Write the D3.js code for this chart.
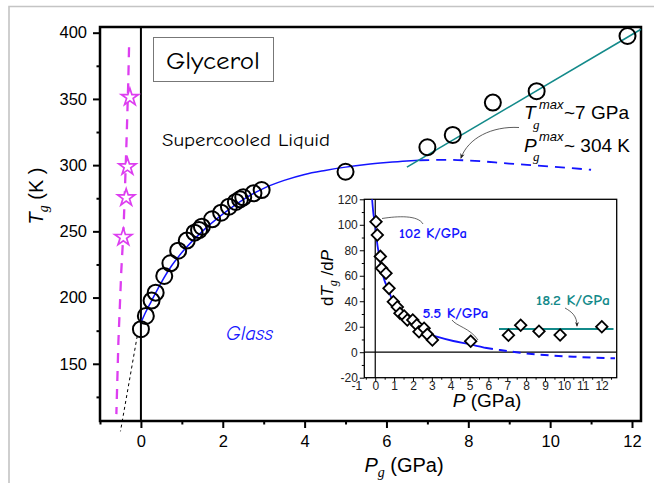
<!DOCTYPE html>
<html>
<head>
<meta charset="utf-8">
<script src="https://cdn.jsdelivr.net/npm/d3@7"></script>
<style>
  body { margin: 0; background: #fff; }
  svg { display: block; }
  text { font-family: "Liberation Sans", Arial, sans-serif; }
  .comic { font-family: "Comic Sans MS", "Comic Neue", "DejaVu Sans", sans-serif; }
</style>
</head>
<body>
<div id="container"></div>
<script>

/** CONSTANTS AND GLOBALS */
const width = 654,
  height = 483;

// main panel: Tg vs Pg
const lowP  = [0.00, 0.12, 0.26, 0.36, 0.57, 0.72, 0.91, 1.12, 1.31, 1.42, 1.49, 1.74, 1.96, 2.15, 2.32, 2.42, 2.50, 2.75, 2.95];
const lowTg = [176.1, 186.1, 197.7, 203.7, 216.3, 225.9, 235.4, 243.0, 249.0, 251.0, 253.5, 259.1, 264.1, 268.6, 272.2, 274.2, 275.7, 278.7, 281.2];
const highP  = [5.00, 7.00, 7.62, 8.60, 9.67, 11.89];
const highTg = [295.0, 313.5, 322.8, 347.2, 355.8, 397.5];

// magenta stars + dashed guide
const starP  = [-0.27, -0.33, -0.36, -0.43];
const starTg = [351.2, 298.8, 275.4, 245.5];
const guideP  = [-0.29, -0.31, -0.35, -0.40, -0.43, -0.48, -0.55, -0.60];
const guideTg = [389, 362, 320, 273, 248, 220, 167, 112];

// blue fit curve, solid part and dashed continuation
const fitP  = [0, 0.1, 0.25, 0.5, 0.75, 1, 1.5, 2, 2.5, 3, 3.5, 4, 4.5, 5, 5.5, 6, 6.5, 6.8];
const fitTg = [181, 188, 197, 211.5, 224, 234, 250, 263, 274, 282.5, 288.5, 293, 296, 298.5, 300.5, 302, 303.2, 303.7];
const fitDashP  = [6.8, 7.5, 8, 9, 10, 11];
const fitDashTg = [303.7, 304, 303.5, 301.2, 299, 296.5];

// black dotted extrapolation
const dotP  = [-0.09, -0.50];
const dotTg = [171, 99];

// teal line, 18.2 K/GPa
const tealP  = [6.5, 12.22];
const tealTg = [298.5, 402.6];

const xMajor = [0, 2, 4, 6, 8, 10, 12];
const xMinor = [-1, 1, 3, 5, 7, 9, 11];
const yMajor = [150, 200, 250, 300, 350, 400];
const yMinor = [125, 175, 225, 275, 325, 375];

// inset: dTg/dP vs P
const slopeP = [0.04, 0.11, 0.27, 0.34, 0.57, 0.73, 0.96, 1.17, 1.31, 1.53, 1.70, 1.99, 2.20, 2.32, 2.59, 2.76, 3.03, 5.06, 7.06, 7.71, 8.68, 9.80, 12.01];
const slopeV = [102.4, 92.0, 75.2, 65.8, 61.9, 50.1, 39.6, 35.5, 30.5, 28.4, 25.3, 25.3, 21.3, 16.1, 18.8, 14.0, 9.6, 8.6, 13.3, 21.1, 16.4, 13.5, 20.0];
const dfitP = [-0.17, -0.10, -0.01, 0.08, 0.22, 0.43, 0.70, 1.05, 1.49, 2.02, 2.73, 3.26, 4.14, 5.03, 5.82];
const dfitV = [120.8, 109, 101, 88, 75, 59.2, 48.8, 35.7, 27.9, 21.3, 14.8, 12.2, 8.8, 6.2, 3.5];
const dfitDashP = [5.82, 6.62, 7.68, 8.56, 9.44, 10.5, 11.56, 12.71];
const dfitDashV = [3.5, 1.7, -0.4, -1.7, -2.7, -3.5, -4.3, -4.8];
const tealSlopeP = [6.56, 12.63];
const tealSlopeV = [18.2, 18.2];

const insXMajor = d3.range(-1, 13);
const insXMinor = d3.range(-0.5, 12.6, 1);
const insYMajor = [-20, 0, 20, 40, 60, 80, 100, 120];
const insYMinor = [-10, 10, 30, 50, 70, 90, 110];

const blue = "#1414ff", teal = "#138a8a", magenta = "#dd3ef0";

let svg;

/** INITIALIZING FUNCTION */
function init() {
  svg = d3.select("#container")
    .append("svg")
    .attr("width", width)
    .attr("height", height);

  const defs = svg.append("defs");
  defs.append("marker")
    .attr("id", "arrow")
    .attr("viewBox", "0 0 10 10")
    .attr("refX", 8).attr("refY", 5)
    .attr("markerWidth", 7).attr("markerHeight", 7)
    .attr("orient", "auto")
    .append("path")
    .attr("d", "M0,1 L10,5 L0,9 L3,5 z")
    .attr("fill", "#222");

  // grey outer border
  svg.append("path")
    .attr("d", "M9,483 L9,6.5 L654,6.5")
    .attr("fill", "none")
    .attr("stroke", "#c4c4c4")
    .attr("stroke-width", 1.6);

  draw();
}

function pairs(a, b) { return a.map((v, i) => [v, b[i]]); }

/** DRAW FUNCTION */
function draw() {
  const x = d3.scaleLinear().domain([-1, 12.22]).range([100, 641]);
  const y = d3.scaleLinear().domain([106.8, 404.3]).range([421, 27]);
  const line = d3.line().x(d => x(d[0])).y(d => y(d[1]));
  const smooth = d3.line().x(d => x(d[0])).y(d => y(d[1])).curve(d3.curveMonotoneX);

  // axes
  svg.append("g").attr("transform", "translate(0,421)")
    .call(d3.axisBottom(x).tickValues(xMajor).tickSize(7).tickSizeOuter(0).tickPadding(7));
  svg.append("g").attr("transform", "translate(0,421)")
    .call(d3.axisBottom(x).tickValues(xMinor).tickSize(3.5).tickSizeOuter(0).tickFormat(""));
  svg.append("g").attr("transform", "translate(100,0)")
    .call(d3.axisLeft(y).tickValues(yMajor).tickSize(7).tickSizeOuter(0).tickPadding(6));
  svg.append("g").attr("transform", "translate(100,0)")
    .call(d3.axisLeft(y).tickValues(yMinor).tickSize(3.5).tickSizeOuter(0).tickFormat(""));
  svg.selectAll(".domain").remove();
  svg.selectAll(".tick line").attr("stroke", "#000").attr("stroke-width", 2);
  svg.selectAll(".tick text").attr("font-size", 16.5).attr("fill", "#000")
    .style("font-family", "'Liberation Sans', Arial, sans-serif");

  // frame + zero line
  svg.append("rect")
    .attr("x", 100).attr("y", 27).attr("width", 541).attr("height", 394)
    .attr("fill", "none").attr("stroke", "#000").attr("stroke-width", 2.5);
  svg.append("line")
    .attr("x1", x(0)).attr("x2", x(0)).attr("y1", 27).attr("y2", 421)
    .attr("stroke", "#000").attr("stroke-width", 2);

  // Glycerol box
  svg.append("rect")
    .attr("x", 153.5).attr("y", 37.5).attr("width", 120).attr("height", 44)
    .attr("fill", "#fff").attr("stroke", "#777").attr("stroke-width", 1);
  svg.append("text").attr("class", "comic")
    .attr("x", 166).attr("y", 69).attr("font-size", 24)
    .attr("textLength", 94).attr("lengthAdjust", "spacingAndGlyphs")
    .text("Glycerol");

  svg.append("text").attr("class", "comic")
    .attr("x", 162).attr("y", 145.5).attr("font-size", 18.5)
    .attr("textLength", 168).attr("lengthAdjust", "spacingAndGlyphs")
    .text("Supercooled Liquid");

  svg.append("text").attr("class", "comic")
    .attr("x", 226).attr("y", 340).attr("font-size", 19.5)
    .attr("font-style", "italic").attr("fill", blue)
    .attr("textLength", 47).attr("lengthAdjust", "spacingAndGlyphs")
    .text("Glass");

  // magenta dashed guide + stars
  svg.append("path").datum(pairs(guideP, guideTg))
    .attr("d", line)
    .attr("fill", "none").attr("stroke", magenta)
    .attr("stroke-width", 2.3).attr("stroke-dasharray", "10,8");
  svg.selectAll(".star")
    .data(pairs(starP, starTg))
    .join("path")
    .attr("class", "star")
    .attr("d", d3.symbol(d3.symbolStar, 92))
    .attr("transform", d => `translate(${x(d[0])},${y(d[1])})`)
    .attr("fill", "#fff").attr("stroke", magenta).attr("stroke-width", 1.7);

  // dotted extrapolation
  svg.append("path").datum(pairs(dotP, dotTg))
    .attr("d", line)
    .attr("fill", "none").attr("stroke", "#000")
    .attr("stroke-width", 1).attr("stroke-dasharray", "3,3");

  // blue fit
  svg.append("path").datum(pairs(fitP, fitTg))
    .attr("d", smooth)
    .attr("fill", "none").attr("stroke", blue).attr("stroke-width", 1.5);
  svg.append("path").datum(pairs(fitDashP, fitDashTg))
    .attr("d", smooth)
    .attr("fill", "none").attr("stroke", blue)
    .attr("stroke-width", 1.8).attr("stroke-dasharray", "10,7");

  // teal line
  svg.append("path").datum(pairs(tealP, tealTg))
    .attr("d", line)
    .attr("fill", "none").attr("stroke", teal).attr("stroke-width", 1.6);

  // circles
  svg.selectAll(".pt")
    .data(pairs(lowP, lowTg).concat(pairs(highP, highTg)))
    .join("circle")
    .attr("class", "pt")
    .attr("cx", d => x(d[0]))
    .attr("cy", d => y(d[1]))
    .attr("r", 8)
    .attr("fill", "none").attr("stroke", "#000").attr("stroke-width", 2);

  // annotation Tg max / Pg max
  const ann = svg.append("g");
  ann.append("text").attr("x", 524).attr("y", 119).attr("font-size", 19).attr("font-style", "italic").text("T");
  ann.append("text").attr("x", 533).attr("y", 129).attr("font-size", 13)
    .attr("font-style", "italic").style("font-family", "'Liberation Serif', serif").text("g");
  ann.append("text").attr("x", 539).attr("y", 109).attr("font-size", 13).attr("font-style", "italic").text("max");
  ann.append("text").attr("x", 564).attr("y", 119).attr("font-size", 19).text("~7 GPa");
  ann.append("text").attr("x", 524).attr("y", 151.5).attr("font-size", 19).attr("font-style", "italic").text("P");
  ann.append("text").attr("x", 533).attr("y", 161).attr("font-size", 13)
    .attr("font-style", "italic").style("font-family", "'Liberation Serif', serif").text("g");
  ann.append("text").attr("x", 539).attr("y", 141).attr("font-size", 13).attr("font-style", "italic").text("max");
  ann.append("text").attr("x", 564).attr("y", 151.5).attr("font-size", 19).text("~ 304 K");
  ann.append("path")
    .attr("d", "M519,127.5 C492,126 468,138 461,158")
    .attr("fill", "none").attr("stroke", "#333").attr("stroke-width", 0.8)
    .attr("marker-end", "url(#arrow)");

  // axis titles
  const yt = svg.append("text")
    .attr("transform", "translate(43,196) rotate(-90)")
    .attr("text-anchor", "middle").attr("font-size", 20);
  yt.append("tspan").attr("font-style", "italic").text("T");
  yt.append("tspan").attr("font-style", "italic").attr("font-size", 14).attr("dy", 5)
    .style("font-family", "'Liberation Serif', serif").text("g");
  yt.append("tspan").attr("dy", -5).text(" (K )");

  const xt = svg.append("text")
    .attr("x", 404).attr("y", 472)
    .attr("text-anchor", "middle").attr("font-size", 20);
  xt.append("tspan").attr("font-style", "italic").text("P");
  xt.append("tspan").attr("font-style", "italic").attr("font-size", 14).attr("dy", 5)
    .style("font-family", "'Liberation Serif', serif").text("g");
  xt.append("tspan").attr("dy", -5).text(" (GPa)");

  drawInset();
}

function drawInset() {
  const L = 364.3, R = 616.7, T = 199.3, B = 377.7;
  const x = d3.scaleLinear().domain([-0.58, 12.8]).range([L, R]);
  const y = d3.scaleLinear().domain([-20, 120]).range([B, T]);
  const line = d3.line().x(d => x(d[0])).y(d => y(d[1]));
  const smooth = d3.line().x(d => x(d[0])).y(d => y(d[1])).curve(d3.curveMonotoneX);
  const fmt = d => String(d);

  const g = svg.append("g");
  g.append("rect")
    .attr("x", L).attr("y", T).attr("width", R - L).attr("height", B - T)
    .attr("fill", "#fff");

  g.append("clipPath").attr("id", "insclip")
    .append("rect").attr("x", L).attr("y", T).attr("width", R - L).attr("height", B - T);

  // zero lines
  g.append("line").attr("x1", L).attr("x2", R).attr("y1", y(0)).attr("y2", y(0))
    .attr("stroke", "#000").attr("stroke-width", 1.2);
  g.append("line").attr("x1", x(0)).attr("x2", x(0)).attr("y1", T).attr("y2", B)
    .attr("stroke", "#000").attr("stroke-width", 1.2);

  const ax = g.append("g").attr("transform", `translate(0,${B})`)
    .call(d3.axisBottom(x).tickValues(insXMajor).tickFormat(fmt).tickSize(3.5).tickSizeOuter(0).tickPadding(0));
  g.append("g").attr("transform", `translate(0,${B})`)
    .call(d3.axisBottom(x).tickValues(insXMinor).tickSize(2).tickSizeOuter(0).tickFormat(""));
  g.append("g").attr("transform", `translate(${L},0)`)
    .call(d3.axisLeft(y).tickValues(insYMajor).tickFormat(fmt).tickSize(4.5).tickSizeOuter(0).tickPadding(2));
  g.append("g").attr("transform", `translate(${L},0)`)
    .call(d3.axisLeft(y).tickValues(insYMinor).tickSize(2.5).tickSizeOuter(0).tickFormat(""));
  g.selectAll(".domain").remove();
  g.selectAll(".tick line").attr("stroke", "#000").attr("stroke-width", 1);
  g.selectAll(".tick text").attr("font-size", 12).attr("fill", "#222")
    .style("font-family", "'Liberation Sans', Arial, sans-serif");
  ax.selectAll(".tick").filter(d => d < -0.58).select("line").remove();

  g.append("rect")
    .attr("x", L).attr("y", T).attr("width", R - L).attr("height", B - T)
    .attr("fill", "none").attr("stroke", "#000").attr("stroke-width", 1.3);

  const cl = g.append("g").attr("clip-path", "url(#insclip)");
  cl.append("path").datum(pairs(dfitP, dfitV))
    .attr("d", smooth)
    .attr("fill", "none").attr("stroke", blue).attr("stroke-width", 1.8);
  cl.append("path").datum(pairs(dfitDashP, dfitDashV))
    .attr("d", smooth)
    .attr("fill", "none").attr("stroke", blue)
    .attr("stroke-width", 2).attr("stroke-dasharray", "8,6");
  cl.append("path").datum(pairs(tealSlopeP, tealSlopeV))
    .attr("d", line)
    .attr("fill", "none").attr("stroke", teal).attr("stroke-width", 2);

  // leaders
  g.append("path").attr("d", "M382,218.5 C398,216 418,215 423,224")
    .attr("fill", "none").attr("stroke", "#222").attr("stroke-width", 0.7);
  g.append("path").attr("d", "M452,320 C456,326 470,328 478,340")
    .attr("fill", "none").attr("stroke", "#222").attr("stroke-width", 0.7);
  g.append("path").attr("d", "M565,308 C572,312 577,316 577,326")
    .attr("fill", "none").attr("stroke", "#222").attr("stroke-width", 0.7)
    .attr("marker-end", "url(#arrow)");

  // diamonds
  g.selectAll(".dm")
    .data(pairs(slopeP, slopeV))
    .join("path")
    .attr("class", "dm")
    .attr("d", d3.symbol(d3.symbolSquare, 66))
    .attr("transform", d => `translate(${x(d[0])},${y(d[1])}) rotate(45)`)
    .attr("fill", "#fff").attr("stroke", "#000").attr("stroke-width", 1.8);

  // labels
  g.append("text").attr("class", "comic")
    .attr("x", 399).attr("y", 237.5).attr("font-size", 14).attr("font-weight", "bold")
    .attr("fill", blue).attr("textLength", 68).attr("lengthAdjust", "spacingAndGlyphs")
    .text("102 K/GPa");
  g.append("text").attr("class", "comic")
    .attr("x", 422.5).attr("y", 317.5).attr("font-size", 14).attr("font-weight", "bold")
    .attr("fill", blue).attr("textLength", 66).attr("lengthAdjust", "spacingAndGlyphs")
    .text("5.5 K/GPa");
  g.append("text").attr("class", "comic")
    .attr("x", 536).attr("y", 305).attr("font-size", 14).attr("font-weight", "bold")
    .attr("fill", teal).attr("textLength", 74).attr("lengthAdjust", "spacingAndGlyphs")
    .text("18.2 K/GPa");

  const yt = g.append("text")
    .attr("transform", "translate(333,278) rotate(-90)")
    .attr("text-anchor", "middle").attr("font-size", 17);
  yt.append("tspan").text("d");
  yt.append("tspan").attr("font-style", "italic").text("T");
  yt.append("tspan").attr("font-style", "italic").attr("font-size", 12).attr("dy", 4)
    .style("font-family", "'Liberation Serif', serif").text("g");
  yt.append("tspan").attr("dy", -4).text(" /d");
  yt.append("tspan").attr("font-style", "italic").text("P");

  const xt = g.append("text")
    .attr("x", 487).attr("y", 407)
    .attr("text-anchor", "middle").attr("font-size", 19);
  xt.append("tspan").attr("font-style", "italic").text("P");
  xt.append("tspan").text("  (GPa)");
}

init();
</script>
</body>
</html>
